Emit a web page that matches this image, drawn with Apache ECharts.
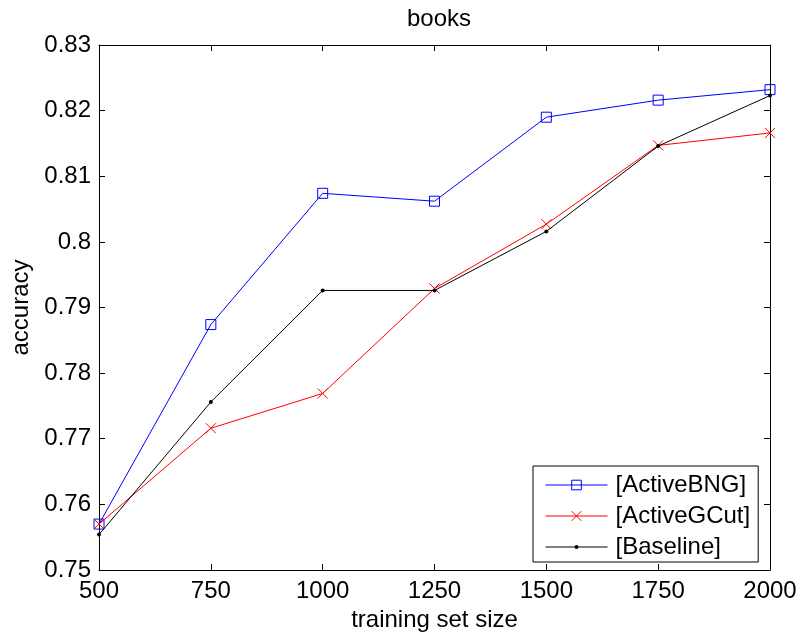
<!DOCTYPE html>
<html>
<head>
<meta charset="utf-8">
<script src="https://cdn.jsdelivr.net/npm/echarts@6/dist/echarts.min.js"></script>
<style>
html,body{margin:0;padding:0;background:#fff;}
#chart{width:800px;height:637px;}
</style>
</head>
<body>
<div id="chart"></div>
<script>
var sizes = [500, 750, 1000, 1250, 1500, 1750, 2000];
var activeBNG = [0.7570, 0.7874, 0.8074, 0.8062, 0.8190, 0.8216, 0.8232];
var activeGCut = [0.7570, 0.7716, 0.7769, 0.7929, 0.8027, 0.8147, 0.8166];
var baseline = [0.7554, 0.7756, 0.7926, 0.7926, 0.8016, 0.8146, 0.8223];
var seriesNames = ['[ActiveBNG]', '[ActiveGCut]', '[Baseline]'];

function pairs(xs, ys) { return xs.map(function (x, i) { return [x, ys[i]]; }); }

var FONT = 'Liberation Sans, Arial, Helvetica, sans-serif';
var chart = echarts.init(document.getElementById('chart'), null, {renderer: 'canvas'});
chart.setOption({
  backgroundColor: '#ffffff',
  animation: false,
  textStyle: {fontFamily: FONT},
  title: {
    text: 'books',
    left: 402,
    top: 2,
    padding: 5,
    textStyle: {fontFamily: FONT, fontSize: 24, fontWeight: 'normal', color: '#000'}
  },
  grid: {left: 99, right: 30, top: 45, bottom: 62, containLabel: false},
  legend: {
    orient: 'vertical',
    left: 533,
    top: 466,
    padding: [7, 8, 3, 12],
    itemGap: 7,
    itemWidth: 62,
    itemHeight: 12,
    borderColor: '#000',
    borderWidth: 1,
    backgroundColor: '#fff',
    lineStyle: {width: 1},
    itemStyle: {borderWidth: 1},
    textStyle: {fontFamily: FONT, fontSize: 24, color: '#000', padding: [0, 0, 0, 3]},
    data: seriesNames
  },
  xAxis: [{
    type: 'value',
    min: 500, max: 2000, interval: 250,
    name: 'training set size',
    nameLocation: 'middle',
    nameGap: 38,
    nameTextStyle: {fontFamily: FONT, fontSize: 24, color: '#000'},
    axisLine: {show: true, onZero: false, lineStyle: {color: '#000', width: 1}},
    axisTick: {show: true, inside: true, length: 6, lineStyle: {color: '#000'}},
    axisLabel: {fontFamily: FONT, fontSize: 24, color: '#000', margin: 9,
      formatter: function (v) { return String(v); }},
    splitLine: {show: false}
  }, {
    type: 'value',
    position: 'top',
    min: 500, max: 2000, interval: 250,
    axisLine: {show: true, onZero: false, lineStyle: {color: '#000', width: 1}},
    axisTick: {show: true, inside: true, length: 6, lineStyle: {color: '#000'}},
    axisLabel: {show: false},
    splitLine: {show: false}
  }],
  yAxis: [{
    type: 'value',
    min: 0.75, max: 0.83, interval: 0.01,
    name: 'accuracy',
    nameLocation: 'middle',
    nameGap: 65,
    nameTextStyle: {fontFamily: FONT, fontSize: 24, color: '#000'},
    axisLine: {show: true, onZero: false, lineStyle: {color: '#000', width: 1}},
    axisTick: {show: true, inside: true, length: 6, lineStyle: {color: '#000'}},
    axisLabel: {fontFamily: FONT, fontSize: 24, color: '#000', margin: 8,
      formatter: function (v) { return String(Math.round(v * 100) / 100); }},
    splitLine: {show: false}
  }, {
    type: 'value',
    position: 'right',
    min: 0.75, max: 0.83, interval: 0.01,
    axisLine: {show: true, onZero: false, lineStyle: {color: '#000', width: 1}},
    axisTick: {show: true, inside: true, length: 6, lineStyle: {color: '#000'}},
    axisLabel: {show: false},
    splitLine: {show: false}
  }],
  series: [{
    name: seriesNames[0],
    type: 'line',
    data: pairs(sizes, activeBNG),
    symbol: 'rect',
    symbolSize: 10,
    lineStyle: {color: '#0000ff', width: 1},
    itemStyle: {color: 'rgba(0,0,0,0)', borderColor: '#0000ff', borderWidth: 1},
    z: 2
  }, {
    name: seriesNames[1],
    type: 'line',
    data: pairs(sizes, activeGCut),
    symbol: 'path://M0,0L10,10M10,0L0,10',
    symbolSize: 10,
    lineStyle: {color: '#ff0000', width: 1},
    itemStyle: {color: '#ff0000', borderColor: '#ff0000', borderWidth: 1},
    z: 3
  }, {
    name: seriesNames[2],
    type: 'line',
    data: pairs(sizes, baseline),
    symbol: 'path://M0,0M10,10M3,5a2,2 0 1,0 4,0a2,2 0 1,0 -4,0Z',
    symbolSize: 10,
    lineStyle: {color: '#000000', width: 1},
    itemStyle: {color: '#000000', borderWidth: 0},
    z: 4
  }]
});
</script>
</body>
</html>
